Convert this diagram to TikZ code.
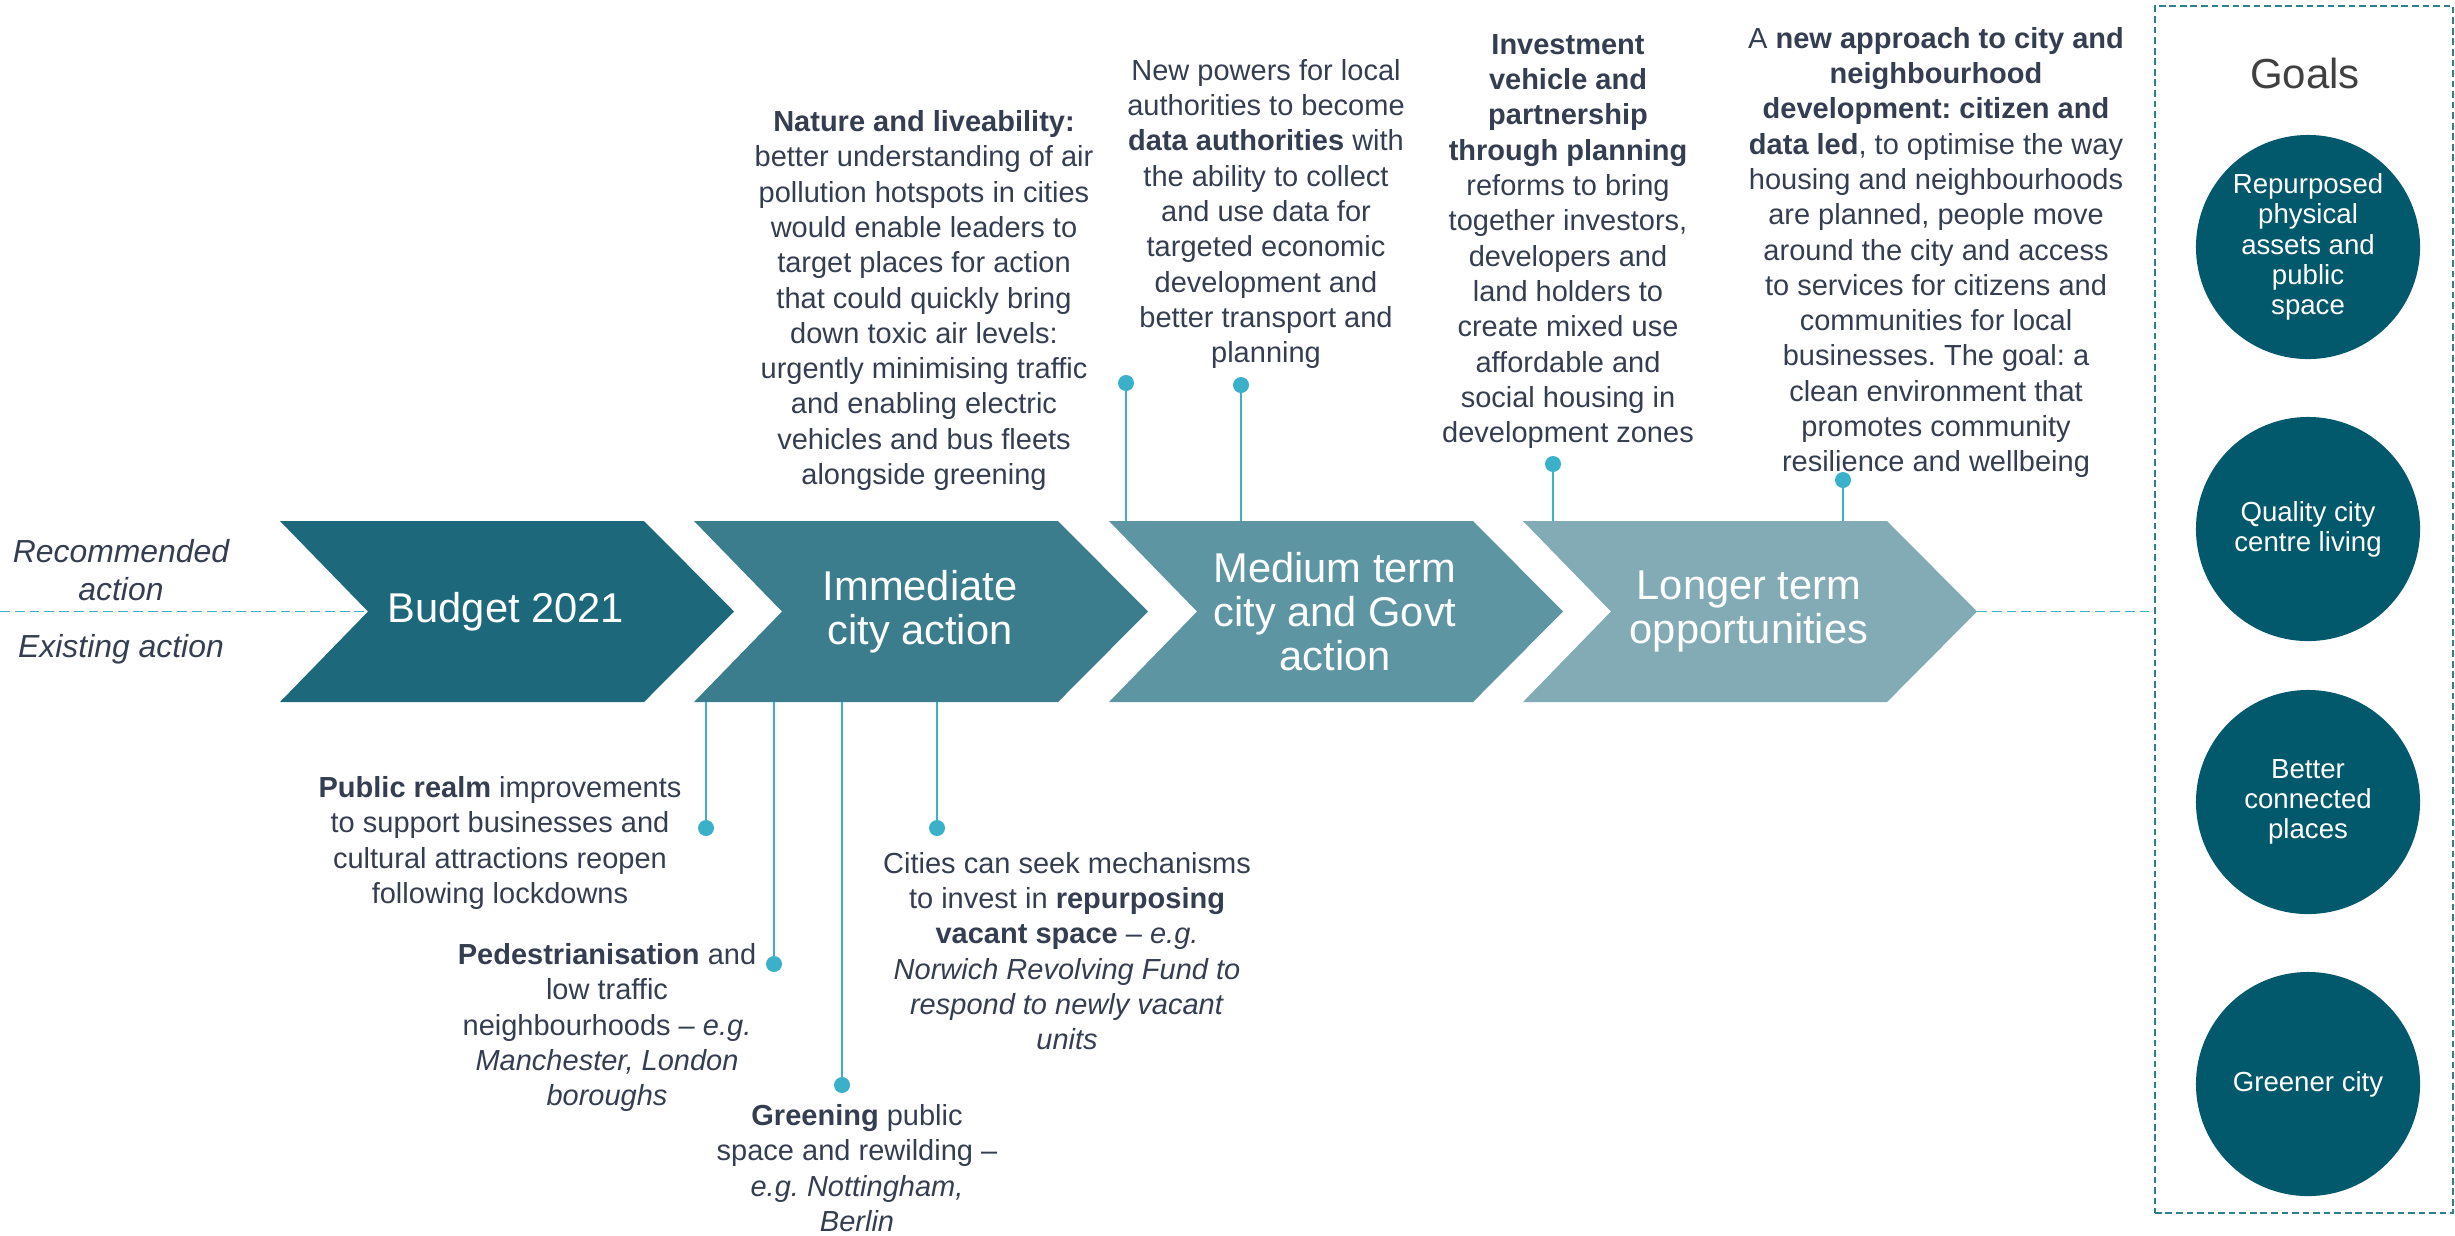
\documentclass[tikz,border=0pt]{standalone}
\usepackage{fontspec}
\setmainfont{Liberation Sans}
\usepackage{xcolor}
\usetikzlibrary{calc,positioning}
\frenchspacing

\definecolor{chevA}{RGB}{29,105,123}
\definecolor{chevB}{RGB}{59,125,140}
\definecolor{chevC}{RGB}{94,149,162}
\definecolor{chevD}{RGB}{130,171,182}
\definecolor{circfill}{RGB}{2,89,108}
\definecolor{stemblue}{RGB}{58,176,201}
\definecolor{boxline}{RGB}{44,128,143}
\definecolor{ink}{RGB}{52,62,80}
\definecolor{goalsink}{RGB}{64,64,64}

\tikzset{
  txt/.style={font=\fontsize{8.25}{10.04}\selectfont, text=ink, align=center, inner sep=0pt},
  chevlabel/.style={font=\fontsize{11.84}{12.6}\selectfont, text=white, align=center, inner sep=0pt},
  legendtxt/.style={font=\fontsize{9.07}{10.8}\selectfont\itshape, text=ink, align=center, inner sep=0pt},
  goal/.style={circle, fill=circfill, minimum size=2.24cm, inner sep=0pt, text=white, align=center,
    font=\fontsize{7.85}{8.62}\selectfont},
  tipdot/.style={circle, fill=stemblue, inner sep=0pt, minimum size=0.16cm},
  stemline/.style={draw=stemblue, line width=0.7pt},
  guide/.style={draw=stemblue, line width=0.55pt, dash pattern=on 2.8pt off 1.4pt},
  goalbox/.style={draw=boxline, line width=0.55pt, dash pattern=on 1.9pt off 1.1pt,
    minimum width=2.98cm, minimum height=12.07cm, inner sep=0pt}
}

\begin{document}
\begin{tikzpicture}[x=0.01cm, y=-0.01cm]
  \useasboundingbox (0,0) rectangle (2455,1235);

  % chevrons
  \foreach \x/\col/\nm/\lab in {280/chevA/budget/{Budget 2021},
      694/chevB/immediate/{Immediate\\city action},
      1109/chevC/medium/{Medium term\\city and Govt\\action},
      1523/chevD/longer/{Longer term\\opportunities}}{
    \fill[\col] (\x,521) -- (\x+364,521) -- (\x+454,611.5) -- (\x+364,702)
      -- (\x,702) -- (\x+88,611.5) -- cycle;
    \coordinate (\nm-in) at (\x+88,611.5);
    \coordinate (\nm-tip) at (\x+454,611.5);
    \coordinate (\nm-top) at (\x+226,521);
    \coordinate (\nm-bot) at (\x+226,702);
    \node[chevlabel] (\nm) at (\x+226,611.5) {\lab};
  }

  \node[legendtxt] (recommended) at (121,570) {Recommended\\action};
  \node[legendtxt] (existing) at (121,649) {Existing action};

  % goals
  \node[goalbox] (goalsbox) at (2304,609.5) {};
  \node[font=\fontsize{11.95}{13}\selectfont, text=goalsink, inner sep=0pt] (goals) at (2305,73) {Goals};
  \node[goal] (repurposed) at (2308,247) {Repurposed\\physical\\assets and\\public\\space};
  \node[goal] (quality) at (2308,529) {Quality city\\centre living};
  \node[goal] (connected) at (2308,802) {Better\\connected\\places};
  \node[goal] (greener) at (2308,1084) {Greener city};

  \coordinate (edge) at (0,611.5);
  \draw[guide] (edge) -- (budget-in);
  \draw[guide] (longer-tip) -- (goalsbox.west |- longer-tip);

  % stems
  \foreach \nm/\px/\py/\chev in {dA/1126/383/medium-top, dB/1241/385/medium-top,
      dC/1553/464/longer-top, dD/1843/480/longer-top,
      dE/706/828/immediate-bot, dF/774/964/immediate-bot,
      dG/842/1085/immediate-bot, dH/937/828/immediate-bot}{
    \node[tipdot] (\nm) at (\px,\py) {};
    \draw[stemline] (\nm.center) -- (\nm |- \chev);
  }

  % texts above
  \node[txt] (nature) at (924,300.5) {\textbf{Nature and liveability:}\\better understanding of air\\
    pollution hotspots in cities\\would enable leaders to\\target places for action\\
    that could quickly bring\\down toxic air levels:\\urgently minimising traffic\\
    and enabling electric\\vehicles and bus fleets\\alongside greening};
  \node[txt] (powers) at (1266,214) {New powers for local\\authorities to become\\
    \textbf{data authorities} with\\the ability to collect\\and use data for\\
    targeted economic\\development and\\better transport and\\planning};
  \node[txt] (vehicle) at (1568,241.5) {\textbf{Investment}\\\textbf{vehicle and}\\
    \textbf{partnership}\\\textbf{through planning}\\reforms to bring\\together investors,\\
    developers and\\land holders to\\create mixed use\\affordable and\\
    social housing in\\development zones};
  \node[txt] (approach) at (1936,252.5) {A \textbf{new approach to city and}\\\textbf{neighbourhood}\\
    \textbf{development: citizen and}\\\textbf{data led}, to optimise the way\\
    housing and neighbourhoods\\are planned, people move\\around the city and access\\
    to services for citizens and\\communities for local\\businesses. The goal: a\\
    clean environment that\\promotes community\\resilience and wellbeing};

  % texts below
  \node[txt] (realm) at (500,843) {\textbf{Public realm} improvements\\to support businesses and\\
    cultural attractions reopen\\following lockdowns};
  \node[txt] (pedestrian) at (607,1027.5) {\textbf{Pedestrianisation} and\\low traffic\\
    neighbourhoods -- \textit{e.g.}\\\textit{Manchester, London}\\\textit{boroughs}};
  \node[txt] (greening) at (857,1168) {\textbf{Greening} public\\space and rewilding --\\
    \textit{e.g. Nottingham,}\\\textit{Berlin}};
  \node[txt] (vacant) at (1067,951) {Cities can seek mechanisms\\to invest in \textbf{repurposing}\\
    \textbf{vacant space} -- \textit{e.g.}\\\textit{Norwich Revolving Fund to}\\
    \textit{respond to newly vacant}\\\textit{units}};
\end{tikzpicture}
\end{document}
